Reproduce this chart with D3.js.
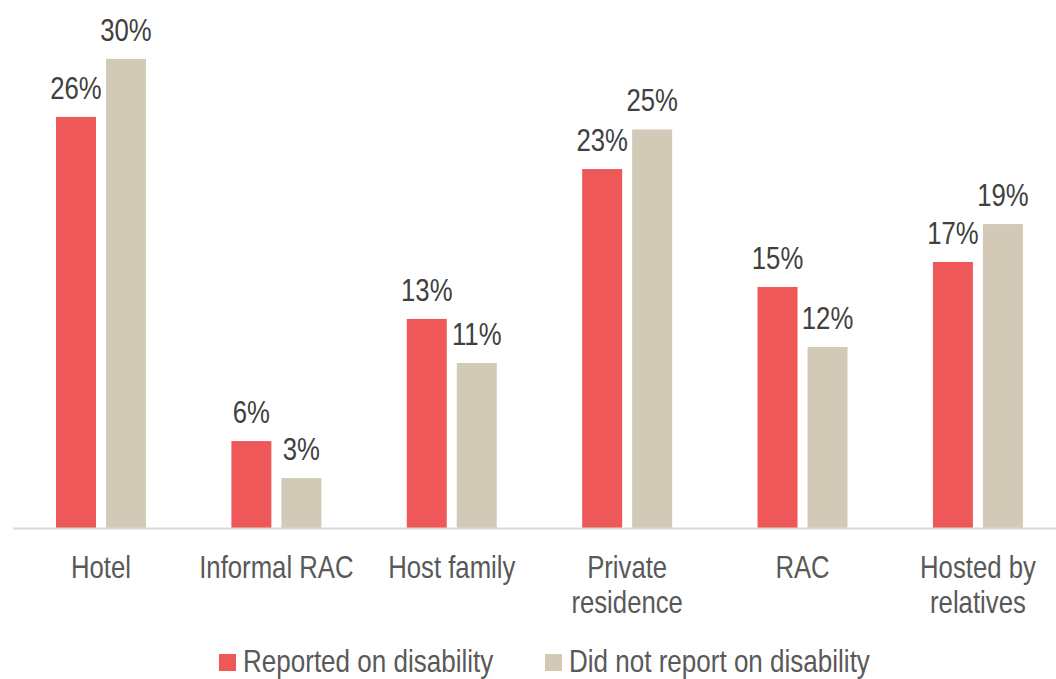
<!DOCTYPE html>
<html>
<head>
<meta charset="utf-8">
<script src="https://cdn.jsdelivr.net/npm/d3@7"></script>
<style>
  html, body { margin: 0; padding: 0; background: #fff; }
  svg { display: block; }
  text { font-family: "Liberation Sans", Arial, sans-serif; }
</style>
</head>
<body>
<svg id="chart" width="1056" height="679"></svg>
<script>
const categories = ["Hotel", "Informal RAC", "Host family", "Private residence", "RAC", "Hosted by relatives"];
const categoryLines = [["Hotel"], ["Informal RAC"], ["Host family"], ["Private", "residence"], ["RAC"], ["Hosted by", "relatives"]];
const seriesNames = ["Reported on disability", "Did not report on disability"];
const reported = [26.25, 5.55, 13.35, 22.92, 15.39, 16.99];
const notReported = [29.95, 3.19, 10.54, 25.45, 11.56, 19.41];
const reportedLabels = ["26%", "6%", "13%", "23%", "15%", "17%"];
const notReportedLabels = ["30%", "3%", "11%", "25%", "12%", "19%"];
const colors = ["#EF5859", "#D2CAB7"];

const NARROW = 0.83; // emulate Arial Narrow by horizontal scaling
const LEGEND_NARROW = 0.84;
const svg = d3.select("#chart");
const baseY = 528;

const x0 = d3.scaleBand().domain(categories).range([13.3, 1065.6]).paddingInner(0.487).paddingOuter(0.2435);
const x1 = d3.scaleBand().domain(seriesNames).range([0, x0.bandwidth()]).paddingInner(0.2);
const y = d3.scaleLinear().domain([0, 32]).range([baseY, baseY - 32 * 15.66]);

const seriesVals = [reported, notReported];
const seriesLabels = [reportedLabels, notReportedLabels];

const data = [];
categories.forEach((c, i) => {
  seriesNames.forEach((s, j) => {
    data.push({ cat: c, series: s, value: seriesVals[j][i], label: seriesLabels[j][i], color: colors[j] });
  });
});

svg.append("g").selectAll("rect").data(data).join("rect")
  .attr("x", d => x0(d.cat) + x1(d.series))
  .attr("y", d => y(d.value))
  .attr("width", x1.bandwidth())
  .attr("height", d => y(0) - y(d.value))
  .attr("fill", d => d.color);

// axis line
svg.append("line")
  .attr("x1", x0.range()[0]).attr("x2", x0.range()[1])
  .attr("y1", baseY + 0.5).attr("y2", baseY + 0.5)
  .attr("stroke", "#D9D9D9").attr("stroke-width", 2);

// value labels
svg.append("g").selectAll("text").data(data).join("text")
  .attr("transform", d => `translate(${x0(d.cat) + x1(d.series) + x1.bandwidth() / 2},${y(d.value) - 18}) scale(${NARROW},1)`)
  .attr("text-anchor", "middle")
  .attr("font-size", 31)
  .attr("fill", "#404040")
  .text(d => d.label);

// category labels
const catG = svg.append("g");
categories.forEach((c, i) => {
  const t = catG.append("text")
    .attr("transform", `translate(${x0(c) + x0.bandwidth() / 2},578) scale(${NARROW},1)`)
    .attr("text-anchor", "middle")
    .attr("font-size", 31)
    .attr("fill", "#595959");
  categoryLines[i].forEach((ln, k) => {
    t.append("tspan").attr("x", 0).attr("dy", k === 0 ? 0 : 35).text(ln);
  });
});

// legend
const legendX = [219, 545];
const lg = svg.append("g");
seriesNames.forEach((s, j) => {
  lg.append("rect").attr("x", legendX[j]).attr("y", 654).attr("width", 17).attr("height", 17).attr("fill", colors[j]);
  lg.append("text").attr("transform", `translate(${legendX[j] + 24},672) scale(${LEGEND_NARROW},1)`)
    .attr("font-size", 31).attr("fill", "#595959").text(s);
});
</script>
</body>
</html>
